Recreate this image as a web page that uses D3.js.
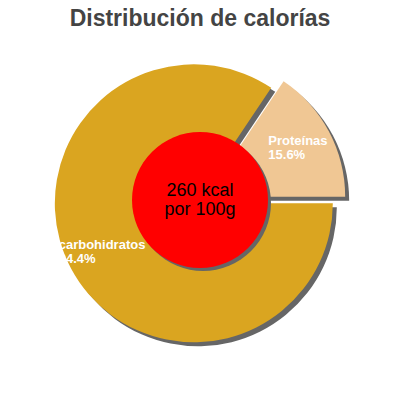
<!DOCTYPE html>
<html>
<head>
<meta charset="utf-8">
<script src="https://cdn.jsdelivr.net/npm/d3@7"></script>
<style>
  body { margin: 0; background: #fff; }
  text { font-family: "Liberation Sans", Arial, sans-serif; }
</style>
</head>
<body>
<div id="chart"></div>
<script>
// values
var nutrients = ["carbohidratos", "Proteínas"];
var percents = [84.4, 15.6];
var sliceColors = ["#daa520", "#f0c794"];
var centerLines = ["260 kcal", "por 100g"];
var title = "Distribución de calorías";

var width = 400,
  height = 400;
var cx = 200,
  cy = 200;
var radius = 139;
var holeRadius = 68;
var explode = 7;
var labelRadius = 104;
var shadowColor = "#666666";

var svg = d3
  .select("#chart")
  .append("svg")
  .attr("width", width)
  .attr("height", height);

svg
  .append("text")
  .attr("x", width / 2)
  .attr("y", 26)
  .attr("text-anchor", "middle")
  .style("font-size", "23px")
  .style("font-weight", "bold")
  .style("fill", "#444444")
  .text(title);

var pieData = nutrients.map(function (n, i) {
  return { name: n, value: percents[i], color: sliceColors[i] };
});

// pie starts at 3 o'clock and runs clockwise
var pie = d3
  .pie()
  .sort(null)
  .value(function (d) {
    return d.value;
  })
  .startAngle(Math.PI / 2)
  .endAngle(Math.PI / 2 + 2 * Math.PI);

var arcs = pie(pieData);
var arc = d3.arc().innerRadius(0).outerRadius(radius);
var labelArc = d3.arc().innerRadius(labelRadius).outerRadius(labelRadius);

// every slice pushed out along its bisector
function offset(d) {
  var mid = (d.startAngle + d.endAngle) / 2;
  return [Math.sin(mid) * explode, -Math.cos(mid) * explode];
}

var g = svg.append("g").attr("transform", "translate(" + cx + "," + cy + ")");

// shadows first
g.selectAll("path.shadow")
  .data(arcs)
  .enter()
  .append("path")
  .attr("class", "shadow")
  .attr("d", arc)
  .attr("transform", function (d) {
    var o = offset(d);
    return "translate(" + (o[0] + 4) + "," + (o[1] + 4) + ")";
  })
  .style("fill", shadowColor);

g.selectAll("path.slice")
  .data(arcs)
  .enter()
  .append("path")
  .attr("class", "slice")
  .attr("d", arc)
  .attr("transform", function (d) {
    var o = offset(d);
    return "translate(" + o[0] + "," + o[1] + ")";
  })
  .style("fill", function (d) {
    return d.data.color;
  });

// red hole with its own shadow
g.append("circle")
  .attr("cx", 3)
  .attr("cy", 3)
  .attr("r", holeRadius)
  .style("fill", shadowColor);
g.append("circle").attr("r", holeRadius).style("fill", "#ff0000");

var centerText = g
  .append("text")
  .attr("text-anchor", "middle")
  .style("font-size", "18px")
  .style("fill", "#000");
centerText
  .selectAll("tspan")
  .data(centerLines)
  .enter()
  .append("tspan")
  .attr("x", 0)
  .attr("y", function (d, i) {
    return -4 + i * 19;
  })
  .text(function (d) {
    return d;
  });

// slice labels: name and percentage, white bold, left aligned block
var labels = g
  .selectAll("text.label")
  .data(arcs)
  .enter()
  .append("text")
  .attr("class", "label")
  .style("font-size", "13px")
  .style("font-weight", "bold")
  .style("fill", "#ffffff");
labels
  .append("tspan")
  .attr("class", "name")
  .attr("y", -3)
  .text(function (d) {
    return d.data.name;
  });
labels
  .append("tspan")
  .attr("class", "pct")
  .attr("y", 11)
  .text(function (d) {
    return d.data.value + "%";
  });
labels.each(function (d) {
  var t = d3.select(this);
  var w = t.select("tspan.name").node().getComputedTextLength();
  var c = labelArc.centroid(d);
  var o = offset(d);
  var x0 = c[0] + o[0] - w / 2;
  t.attr("transform", "translate(" + x0 + "," + (c[1] + o[1]) + ")");
  t.selectAll("tspan").attr("x", 0);
});
</script>
</body>
</html>
